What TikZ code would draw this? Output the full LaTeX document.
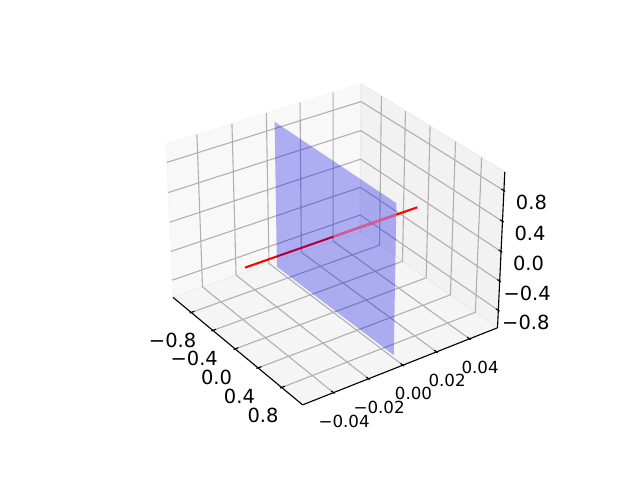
\documentclass[tikz,border=0pt]{standalone}
\usepackage{fontspec}
\setmainfont{DejaVu Sans}
\usetikzlibrary{calc}
\definecolor{panex}{rgb}{0.95,0.95,0.95}
\definecolor{paney}{rgb}{0.90,0.90,0.90}
\definecolor{panez}{rgb}{0.925,0.925,0.925}
\definecolor{gridc}{HTML}{B0B0B0}
\definecolor{pinkseg}{RGB}{220,90,150}
\definecolor{planec}{rgb}{0,0,0.9}
\newcommand\setpt[4]{\coordinate (#1) at ({px(#2,#3,#4)},{py(#2,#3,#4)});}
\begin{document}
\begin{tikzpicture}[x=0.72pt,y=-0.72pt,
  declare function={
    dw(\X,\Y,\Z)=17.5-(0.709406*(\X)-0.496731*(\Y)+0.5*(\Z));
    px(\X,\Y,\Z)=333.3+2082.5*(0.573576*(\X)+0.819152*(\Y))/dw(\X,\Y,\Z);
    py(\X,\Y,\Z)=236.7-2082.5*(-0.409576*(\X)+0.286788*(\Y)+0.866025*(\Z))/dw(\X,\Y,\Z);
  },
  gridline/.style={draw=gridc, line width=0.8pt},
  axisline/.style={draw=black, line width=0.8pt},
  tickmark/.style={draw=black, line width=0.8pt},
  biglabel/.style={inner sep=0pt, font=\fontsize{14}{16}\selectfont},
  smalllabel/.style={inner sep=0pt, font=\fontsize{12}{14}\selectfont},
  pane/.style={opacity=0.5, line width=1pt, line join=round},
]
\useasboundingbox (0,0) rectangle (640,480);
% box corners
\setpt{A}{-1}{-1}{-0.75}
\setpt{B}{1}{-1}{-0.75}
\setpt{C}{1}{1}{-0.75}
\setpt{D}{-1}{1}{-0.75}
\setpt{E}{-1}{-1}{0.75}
\setpt{F}{-1}{1}{0.75}
\setpt{G}{1}{1}{0.75}
% panes
\filldraw[pane, draw=panex, fill=panex] (A)--(D)--(F)--(E)--cycle;
\filldraw[pane, draw=paney, fill=paney] (D)--(C)--(G)--(F)--cycle;
\filldraw[pane, draw=panez, fill=panez] (A)--(B)--(C)--(D)--cycle;
% grid
\foreach \v in {-0.8,-0.4,0,0.4,0.8}{
  \pgfmathsetmacro\xn{\v/1.1458333}
  \pgfmathsetmacro\zn{0.72*\v}
  \setpt{p1}{\xn}{-1}{-0.75}\setpt{p2}{\xn}{1}{-0.75}\setpt{p3}{\xn}{1}{0.75}
  \draw[gridline] (p1)--(p2)--(p3);
  \setpt{q1}{1}{\xn}{-0.75}\setpt{q2}{-1}{\xn}{-0.75}\setpt{q3}{-1}{\xn}{0.75}
  \draw[gridline] (q1)--(q2)--(q3);
  \setpt{r1}{-1}{-1}{\zn}\setpt{r2}{-1}{1}{\zn}\setpt{r3}{1}{1}{\zn}
  \draw[gridline] (r1)--(r2)--(r3);
}
% axis lines
\draw[axisline] (A)--(B);
\draw[axisline] (B)--(C);
\draw[axisline] (C)--(G);
% x and z ticks with labels
\foreach \v/\lab in {-0.8/−0.8,-0.4/−0.4,0/0.0,0.4/0.4,0.8/0.8}{
  \pgfmathsetmacro\xn{\v/1.1458333}
  \pgfmathsetmacro\zn{0.72*\v}
  \setpt{t1}{\xn}{-1.016}{-0.75}\setpt{t2}{\xn}{-0.968}{-0.75}\setpt{t0}{\xn}{-1}{-0.75}
  \draw[tickmark] (t1)--(t2);
  \node[biglabel] (xl) at ($(t0)+(-18.6,28.2)$) {\lab};
  \setpt{u1}{1.016}{1}{\zn}\setpt{u2}{0.968}{1}{\zn}\setpt{u0}{1}{1}{\zn}
  \draw[tickmark] (u1)--(u2);
  \node[biglabel] (zl) at ($(u0)+(27.5,12)$) {\lab};
}
% y ticks with labels
\foreach \v/\lab in {-0.8/−0.04,-0.4/−0.02,0/0.00,0.4/0.02,0.8/0.04}{
  \pgfmathsetmacro\yn{\v/1.1458333}
  \setpt{s1}{1.016}{\yn}{-0.75}\setpt{s2}{0.968}{\yn}{-0.75}\setpt{s0}{1}{\yn}{-0.75}
  \draw[tickmark] (s1)--(s2);
  \node[smalllabel] (yl) at ($(s0)+(10.6,28.5)$) {\lab};
}
% plane and line
\setpt{TL}{-0.872727}{0}{0.72}
\setpt{TR}{0.872727}{0}{0.72}
\setpt{BR}{0.872727}{0}{-0.72}
\setpt{BL}{-0.872727}{0}{-0.72}
\setpt{L1}{0}{-0.872727}{0}
\setpt{L2}{0}{0.872727}{0}
\setpt{O}{0}{0}{0}
\draw[red, line width=1.5pt, line cap=rect] (L1)--(L2);
\fill[planec, fill opacity=0.3] (TL)--(TR)--(BR)--(BL)--cycle;
\coordinate (IR) at (intersection cs: first line={(L1)--(L2)}, second line={(TR)--(BR)});
\draw[pinkseg, line width=1.5pt] (O)--(IR);
\end{tikzpicture}
\end{document}
